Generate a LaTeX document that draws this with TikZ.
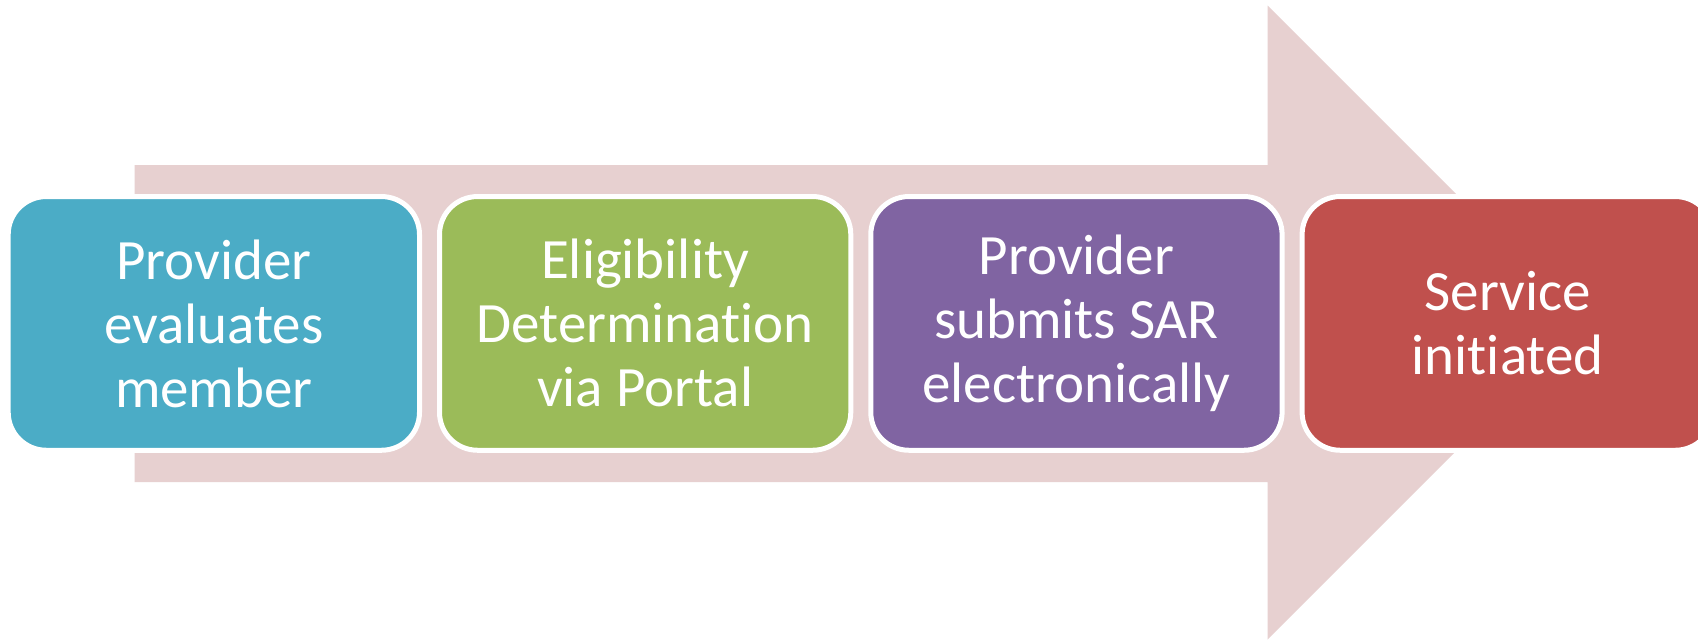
\documentclass[tikz,border=0pt]{standalone}
\usepackage{fontspec}
\setmainfont[Ligatures={NoCommon,NoContextual}]{Carlito}
\definecolor{arrowpink}{HTML}{E7D0D0}
\definecolor{stepblue}{HTML}{4BACC6}
\definecolor{stepgreen}{HTML}{9BBB59}
\definecolor{steppurple}{HTML}{8064A2}
\definecolor{stepred}{HTML}{C0504D}
\begin{document}
\begin{tikzpicture}[x=1pt,y=-1pt,
  stepbox/.style={draw=white, line width=5pt, rounded corners=38pt,
    minimum width=411.3pt, minimum height=253.7pt, inner sep=0pt,
    text=white, align=center, font=\fontsize{57}{64}\selectfont}]
\useasboundingbox (0,0) rectangle (1698,641);
\fill[white] (0,0) rectangle (1698,641);
\clip (0,0) rectangle (1698,641);
\fill[arrowpink] (134.7,165) -- (1267.7,165) -- (1267.7,5.5) -- (1584.7,322.5)
  -- (1267.7,639.5) -- (1267.7,482) -- (134.7,482) -- cycle;
\node[stepbox, fill=stepblue] (s1) at (213.85,323.4) {Provider\\evaluates\\member};
\node[stepbox, fill=stepgreen] (s2) at (645.15,323.4) {Eligibility\\Determination\\via Portal};
\node[stepbox, fill=steppurple] (s3) at (1076.45,323.4) {Provider\\submits SAR\\electronically};
\node[stepbox, fill=stepred] (s4) at (1507.75,323.4) {Service\\initiated};
\end{tikzpicture}
\end{document}
